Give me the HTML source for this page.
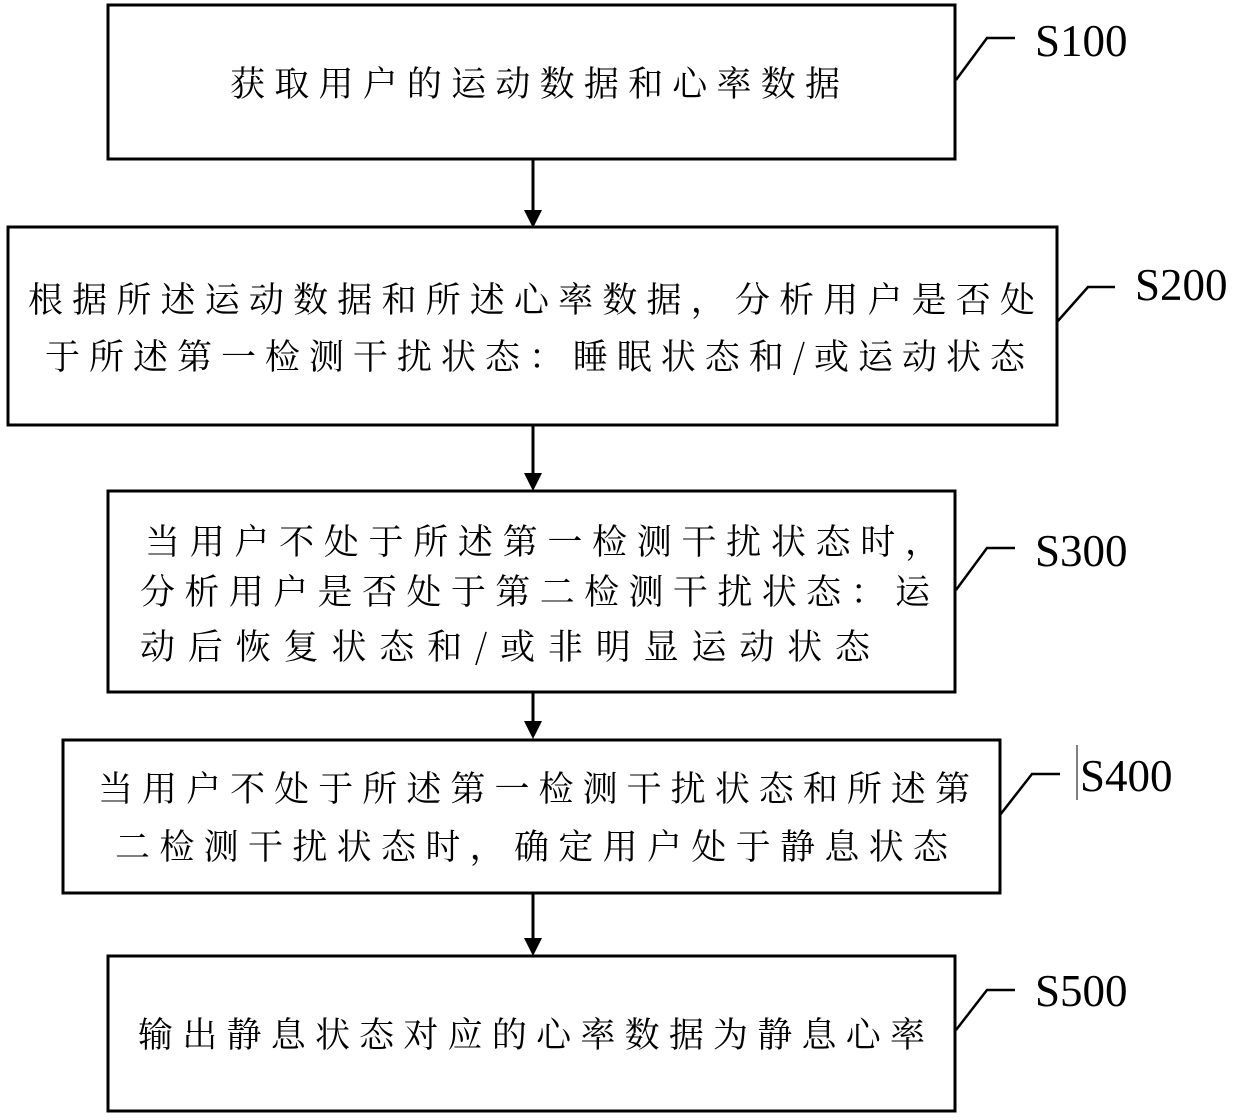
<!DOCTYPE html>
<html><head><meta charset="utf-8"><style>
html,body{margin:0;padding:0;background:#fff;width:1240px;height:1120px;overflow:hidden}
svg text.c{font-family:"Noto Serif CJK SC","Liberation Serif",serif;font-size:35px;fill:#000}
svg text.l{font-family:"Liberation Serif",serif;font-size:45px;fill:#000}
</style></head><body>
<svg width="1240" height="1120" viewBox="0 0 1240 1120" xmlns="http://www.w3.org/2000/svg">
<g fill="none" stroke="#000" stroke-width="3">
<rect x="108" y="5" width="847" height="154"/>
<rect x="8" y="227" width="1049" height="198"/>
<rect x="108" y="491" width="847" height="201"/>
<rect x="63" y="740" width="937" height="153"/>
<rect x="108" y="956" width="847" height="155"/>
<line x1="533" y1="159" x2="533" y2="212"/>
<line x1="533" y1="425" x2="533" y2="475"/>
<line x1="533" y1="692" x2="533" y2="723"/>
<line x1="533" y1="893" x2="533" y2="940"/>
<polyline points="956,80 987,38 1015,38" stroke-width="2.5"/>
<polyline points="1057,322 1088,287 1115,287" stroke-width="2.5"/>
<polyline points="956,590 987,548 1015,548" stroke-width="2.5"/>
<polyline points="1000,815 1032,774 1060,774" stroke-width="2.5"/>
<polyline points="956,1030 987,990 1015,990" stroke-width="2.5"/>
<line x1="1077" y1="745" x2="1077" y2="800" stroke-width="1"/>
</g>
<g fill="#000">
<polygon points="524,210 542,210 533,228"/>
<polygon points="524,473 542,473 533,491"/>
<polygon points="524,721 542,721 533,739"/>
<polygon points="524,938 542,938 533,956"/>
</g>
<g dominant-baseline="central">
<text class="c" x="230" y="82" textLength="610" lengthAdjust="spacing">获取用户的运动数据和心率数据</text>
<text class="c" x="28" y="298" textLength="1007" lengthAdjust="spacing">根据所述运动数据和所述心率数据，分析用户是否处</text>
<text class="c" x="45" y="355" textLength="980" lengthAdjust="spacing">于所述第一检测干扰状态：睡眠状态和/或运动状态</text>
<text class="c" x="145" y="540" textLength="795" lengthAdjust="spacing">当用户不处于所述第一检测干扰状态时，</text>
<text class="c" x="140" y="590" textLength="790" lengthAdjust="spacing">分析用户是否处于第二检测干扰状态：运</text>
<text class="c" x="140" y="645" textLength="730" lengthAdjust="spacing">动后恢复状态和/或非明显运动状态</text>
<text class="c" x="98" y="787" textLength="872" lengthAdjust="spacing">当用户不处于所述第一检测干扰状态和所述第</text>
<text class="c" x="115" y="845" textLength="833" lengthAdjust="spacing">二检测干扰状态时，确定用户处于静息状态</text>
<text class="c" x="138" y="1033" textLength="787" lengthAdjust="spacing">输出静息状态对应的心率数据为静息心率</text>
</g>
<text class="l" x="1035" y="56">S100</text>
<text class="l" x="1135" y="300">S200</text>
<text class="l" x="1035" y="566">S300</text>
<text class="l" x="1080" y="791">S400</text>
<text class="l" x="1035" y="1006">S500</text>
</svg>
</body></html>
